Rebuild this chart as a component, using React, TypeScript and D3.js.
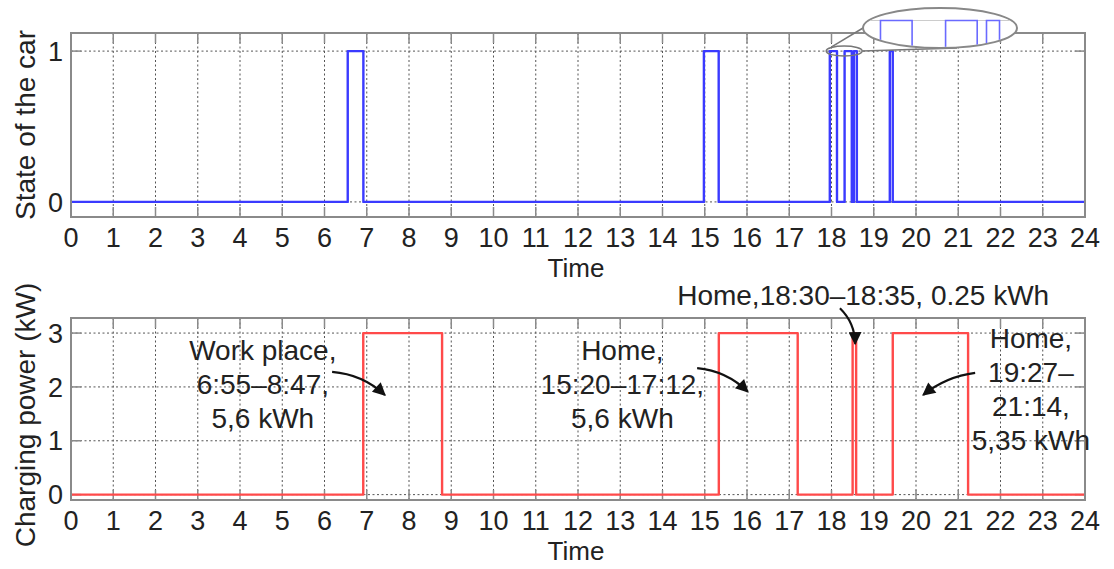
import * as d3 from "d3"

// time axis (hours of the day)
const hourTicks = d3.range(0, 25)

// state of the car (1 = driving), step points
const stateTimes = [0, 6.55, 6.92, 14.98, 15.33, 17.96, 18.13, 18.31, 18.48, 18.53, 18.6, 19.38, 19.45, 24]
const stateValues = [0, 1, 0, 1, 0, 1, 0, 1, 0, 1, 0, 1, 0, 0]
const stateTicks = [0, 1]

// charging power (kW), step points
const powerTimes = [0, 6.917, 8.783, 15.333, 17.2, 18.5, 18.583, 19.45, 21.233, 24]
const powerValues = [0, 3, 0, 3, 0, 3, 0, 3, 0, 0]
const powerTicks = [0, 1, 2, 3]

// annotations: text position and arrow in data units (hours, kW)
const notes = [
    { lines: ["Work place,", "6:55–8:47,", "5,6 kWh"], x: 4.54, y: 2.69, from: [6.18, 2.28], to: [7.43, 1.85], bend: -10 },
    { lines: ["Home,", "15:20–17:12,", "5,6 kWh"], x: 13.05, y: 2.69, from: [14.82, 2.35], to: [16.02, 1.91], bend: -10 },
    { lines: ["Home,18:30–18:35, 0.25 kWh"], x: 18.75, y: 3.7, from: [18.2, 3.46], to: [18.56, 2.8], bend: -8 },
    { lines: ["Home,", "19:27–", "21:14,", "5,35 kWh"], x: 22.72, y: 2.91, from: [21.4, 2.26], to: [20.17, 1.85], bend: 8 },
]

const W = 1114
const H = 569
const left = 71
const right = 1085
const font = "'Liberation Sans', Arial, sans-serif"
const frameColor = "#8a8a8a"
const gridColor = "#555"
const textColor = "#222"

const x = d3.scaleLinear().domain([0, 24]).range([left, right])

function Panel({ top, bottom, yDomain, yTicks, times, values, color, ylabel, labelY }) {
    const y = d3.scaleLinear().domain(yDomain).range([bottom, top])
    const pts = times.map((t, i) => [t, values[i]])
    const line = d3.line().x((d) => x(d[0])).y((d) => y(d[1])).curve(d3.curveStepAfter)
    return (
        <g>
            {/* grid */}
            {hourTicks.slice(1, -1).map((h) => (
                <line key={"gx" + h} x1={x(h)} x2={x(h)} y1={top} y2={bottom} stroke={gridColor} strokeWidth={1} strokeDasharray="2,2.5" />
            ))}
            {yTicks.map((v) => (
                <line key={"gy" + v} x1={left} x2={right} y1={y(v)} y2={y(v)} stroke={gridColor} strokeWidth={1} strokeDasharray="2,2.5" />
            ))}
            {/* ticks */}
            {hourTicks.map((h) => (
                <g key={"tx" + h}>
                    <line x1={x(h)} x2={x(h)} y1={bottom} y2={bottom - 10} stroke={frameColor} strokeWidth={1.5} />
                    <line x1={x(h)} x2={x(h)} y1={top} y2={top + 10} stroke={frameColor} strokeWidth={1.5} />
                    <text x={x(h)} y={bottom + 30} textAnchor="middle" fontSize={27} fill={textColor}>{h}</text>
                </g>
            ))}
            {yTicks.map((v) => (
                <g key={"ty" + v}>
                    <line x1={left} x2={left + 10} y1={y(v)} y2={y(v)} stroke={frameColor} strokeWidth={1.5} />
                    <line x1={right} x2={right - 10} y1={y(v)} y2={y(v)} stroke={frameColor} strokeWidth={1.5} />
                    <text x={left - 8} y={y(v)} dy="0.36em" textAnchor="end" fontSize={27} fill={textColor}>{v}</text>
                </g>
            ))}
            <path d={line(pts)} fill="none" stroke={color} strokeWidth={2.4} strokeLinejoin="round" />
            <rect x={left} y={top} width={right - left} height={bottom - top} fill="none" stroke={frameColor} strokeWidth={2} />
            <text x={576} y={bottom + 60} textAnchor="middle" fontSize={26} fill={textColor}>Time</text>
            <text transform={`translate(35,${labelY}) rotate(-90)`} textAnchor="middle" fontSize={28} fill={textColor}>{ylabel}</text>
        </g>
    )
}

export default function App() {
    const botY = d3.scaleLinear().domain([-0.1, 3.28]).range([500, 318])
    const topY = d3.scaleLinear().domain([-0.1, 1.12]).range([217, 33])

    // zoom inset of the 18:00 cluster
    const small = { cx: x(18.3), cy: topY(1), rx: 18, ry: 5 }
    const big = { cx: 940, cy: 28, rx: 77, ry: 20 }
    const ix = d3.scaleLinear().domain([18.28, 19.28]).range([big.cx, big.cx + 186])
    const iy = d3.scaleLinear().domain([0, 1]).range([20.5 + 151 * 4.5, 20.5])
    const insetLine = d3.line().x((d) => ix(d[0])).y((d) => iy(d[1])).curve(d3.curveStepAfter)
    const statePts = stateTimes.map((t, i) => [t, stateValues[i]])

    return (
        <svg width={W} height={H} style={{ position: "absolute", left: 0, top: 0, background: "#fff" }} fontFamily={font}>
            <defs>
                <marker id="ah" viewBox="0 0 10 10" refX="9" refY="5" markerWidth="18" markerHeight="13" markerUnits="userSpaceOnUse" orient="auto">
                    <path d="M0,0 L10,5 L0,10 Z" fill="#111" />
                </marker>
                <clipPath id="insetClip">
                    <ellipse cx={big.cx} cy={big.cy} rx={big.rx - 1} ry={big.ry - 1} />
                </clipPath>
            </defs>
            <rect width={W} height={H} fill="#fff" />

            <Panel top={33} bottom={217} yDomain={[-0.1, 1.12]} yTicks={stateTicks} times={stateTimes} values={stateValues}
                color="#3a3aff" ylabel="State of the car" labelY={125} />
            <Panel top={318} bottom={500} yDomain={[-0.1, 3.28]} yTicks={powerTicks} times={powerTimes} values={powerValues}
                color="#ff4a4a" ylabel="Charging power (kW)" labelY={415} />

            {/* inset */}
            <ellipse cx={small.cx} cy={small.cy} rx={small.rx} ry={small.ry} fill="none" stroke="#777" strokeWidth={1.5} />
            <line x1={small.cx - small.rx + 5} y1={small.cy - 4} x2={big.cx - big.rx} y2={big.cy} stroke="#777" strokeWidth={1.5} />
            <line x1={small.cx + small.rx} y1={small.cy} x2={big.cx + 17} y2={big.cy + big.ry} stroke="#777" strokeWidth={1.5} />
            <ellipse cx={big.cx} cy={big.cy} rx={big.rx} ry={big.ry} fill="#fff" stroke="#888" strokeWidth={2} />
            <g clipPath="url(#insetClip)">
                <line x1={big.cx - big.rx} x2={big.cx + big.rx} y1={iy(1)} y2={iy(1)} stroke="#ccc" strokeWidth={1} />
                <path d={insetLine(statePts)} fill="none" stroke="#6a6aff" strokeWidth={1.6} />
            </g>

            {/* annotations */}
            {notes.map((n, i) => {
                const x0 = x(n.from[0]), y0 = botY(n.from[1])
                const x1 = x(n.to[0]), y1 = botY(n.to[1])
                const mx = (x0 + x1) / 2, my = (y0 + y1) / 2
                const len = Math.hypot(x1 - x0, y1 - y0)
                const nx = -(y1 - y0) / len, ny = (x1 - x0) / len
                const c = [mx + nx * n.bend, my + ny * n.bend]
                return (
                    <g key={i}>
                        {n.lines.map((t, j) => (
                            <text key={j} x={x(n.x)} y={botY(n.y) + j * 34} dy="0.36em" textAnchor="middle" fontSize={28} fill={textColor}>{t}</text>
                        ))}
                        <path d={`M${x0},${y0} Q${c[0]},${c[1]} ${x1},${y1}`} fill="none" stroke="#111" strokeWidth={2.2} markerEnd="url(#ah)" />
                    </g>
                )
            })}
        </svg>
    )
}
